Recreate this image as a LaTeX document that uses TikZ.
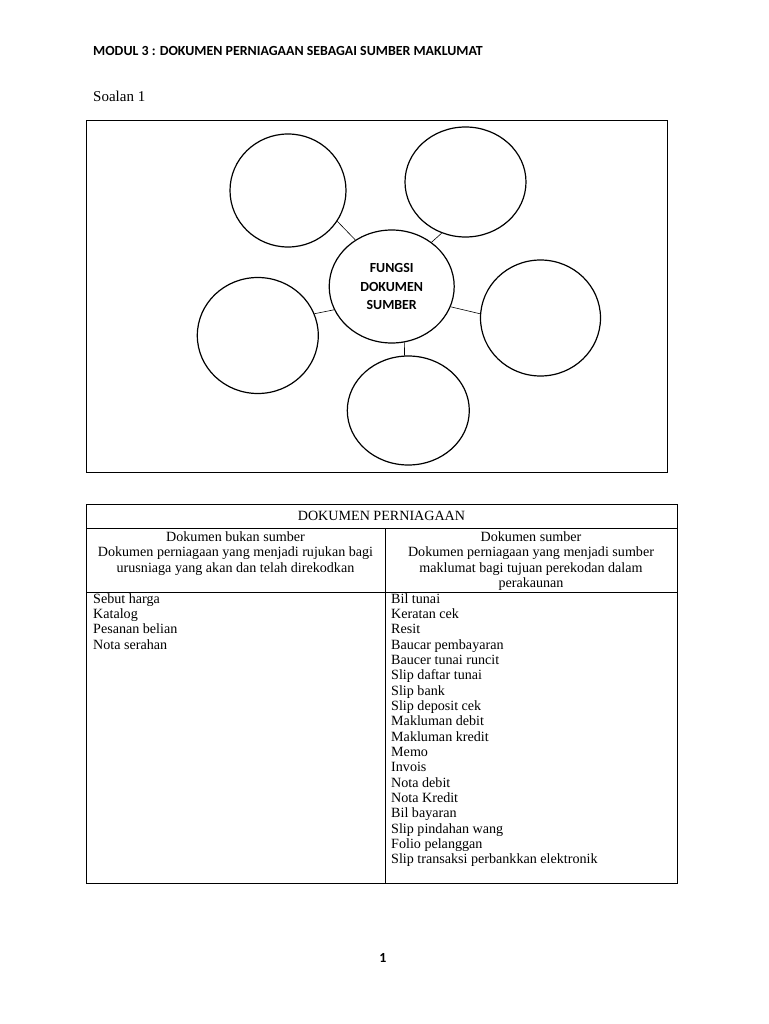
\documentclass[tikz,border=0pt]{standalone}
\usepackage{fontspec}
\setmainfont{Liberation Serif}
\newfontfamily\calfont{Carlito}
\usetikzlibrary{shapes.geometric}
\begin{document}
\begin{tikzpicture}[x=1pt,y=-1pt,
  bub/.style={draw, ellipse, line width=1.2pt, inner sep=0pt},
  link/.style={line width=0.6pt},
  frame/.style={draw, line width=0.9pt},
  hd/.style={font=\fontsize{13.9}{18.5}\selectfont\calfont\bfseries, inner sep=0pt},
  tx/.style={font=\fontsize{14.1}{15.4}\selectfont, inner sep=0pt}]
\useasboundingbox[fill=white] (0,0) rectangle (768,1024);

% title and question
\node[hd, anchor=base west] (title) at (93,56) {MODUL 3 : DOKUMEN PERNIAGAAN SEBAGAI SUMBER MAKLUMAT};
\node[anchor=base west, inner sep=0pt, font=\fontsize{15}{18}\selectfont] (soalan) at (93,101.7) {Soalan 1};

% frame
\draw[frame] (86,120) rectangle (667,472);

% bubbles
\node[bub, minimum width=116pt, minimum height=113pt] (tl) at (288,190.5) {};
\node[bub, minimum width=121pt, minimum height=110pt] (tr) at (465.5,182) {};
\node[bub, minimum width=125pt, minimum height=113pt, align=center, hd] (c) at (391.7,286.5) {FUNGSI\\DOKUMEN\\SUMBER};
\node[bub, minimum width=121pt, minimum height=116pt] (l) at (257.8,335.5) {};
\node[bub, minimum width=120pt, minimum height=116pt] (r) at (540.5,318) {};
\node[bub, minimum width=122pt, minimum height=109pt] (b) at (408.3,410.5) {};

\draw[link] (tl.-32.1) -- (c.128.8);
\draw[link] (c.48.9) -- (tr.245.4);
\draw[link] (l.21.7) -- (c.202.9);
\draw[link] (c.-19.5) -- (r.176);
\draw[link] (c.-77.9) -- (b.94.6);

% table
\draw[frame] (86,504) rectangle (677,883);
\draw[line width=0.9pt] (86,528) -- (677,528);
\draw[line width=0.9pt] (86,592) -- (677,592);
\draw[line width=0.9pt] (385,528) -- (385,883);

\node[tx, anchor=base] (th) at (381.5,520) {DOKUMEN PERNIAGAAN};

\node[tx, anchor=base] (l1) at (235.5,541) {Dokumen bukan sumber};
\node[tx, anchor=base] (l2) at (235.5,556.5) {Dokumen perniagaan yang menjadi rujukan bagi};
\node[tx, anchor=base] (l3) at (235.5,572) {urusniaga yang akan dan telah direkodkan};

\node[tx, anchor=base] (r1) at (531,541) {Dokumen sumber};
\node[tx, anchor=base] (r2) at (531,556.5) {Dokumen perniagaan yang menjadi sumber};
\node[tx, anchor=base] (r3) at (531,572) {maklumat bagi tujuan perekodan dalam};
\node[tx, anchor=base] (r4) at (531,587.5) {perakaunan};

\foreach \t [count=\i] in {Sebut harga, Katalog, Pesanan belian, Nota serahan}
  \node[tx, anchor=base west] (a\i) at (93,{603+(\i-1)*15.35}) {\t};

\foreach \t [count=\i] in {Bil tunai, Keratan cek, Resit, Baucar pembayaran, Baucer tunai runcit, Slip daftar tunai, Slip bank, Slip deposit cek, Makluman debit, Makluman kredit, Memo, Invois, Nota debit, Nota Kredit, Bil bayaran, Slip pindahan wang, Folio pelanggan, Slip transaksi perbankkan elektronik}
  \node[tx, anchor=base west] (s\i) at (391,{603+(\i-1)*15.35}) {\t};

\node[hd, anchor=base] (page) at (383,962) {1};
\end{tikzpicture}
\end{document}
